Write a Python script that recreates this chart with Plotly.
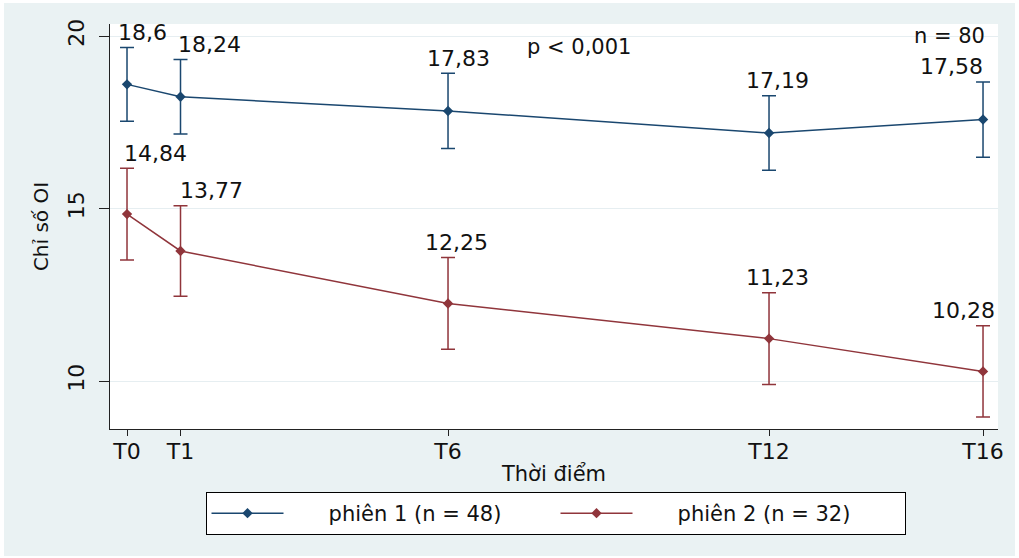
import plotly.graph_objects as go

# ---- data ----
time_labels = ["T0", "T1", "T6", "T12", "T16"]
time_values = [0, 1, 6, 12, 16]
series1_name = "phiên 1 (n = 48)"
series1_mean = [18.60, 18.24, 17.83, 17.19, 17.58]
series1_err = [1.07, 1.08, 1.09, 1.08, 1.09]
series2_name = "phiên 2 (n = 32)"
series2_mean = [14.84, 13.77, 12.25, 11.23, 10.28]
series2_err = [1.33, 1.31, 1.33, 1.33, 1.32]
y_ticks = [10, 15, 20]

# ---- style ----
FONT = "DejaVu Sans"
BLUE = "#1a476f"
RED = "#90353b"
BG = "#EAF2F3"
LEG_PAD = "\u00a0" * 6
s1_label_dx = [15, 29, 10, 8, -32]
s2_label_dx = [28, 31, 8, 8, -20]

def fmt(v):
    return f"{v:g}".replace(".", ",")

fig = go.Figure()
for name, mean, err, color in [
    (series1_name, series1_mean, series1_err, BLUE),
    (series2_name, series2_mean, series2_err, RED),
]:
    fig.add_trace(go.Scatter(
        x=time_values, y=mean, name=LEG_PAD + name, mode="lines+markers",
        line=dict(color=color, width=1.5),
        marker=dict(symbol="diamond", size=8, color=color),
        error_y=dict(type="data", array=err, visible=True, color=color,
                     thickness=1.5, width=7),
    ))

annotations = []
for mean, err, dxs in [(series1_mean, series1_err, s1_label_dx),
                       (series2_mean, series2_err, s2_label_dx)]:
    for xv, m, e, dx in zip(time_values, mean, err, dxs):
        annotations.append(dict(
            x=xv, y=m + e, xref="x", yref="y", text=fmt(m), showarrow=False,
            xanchor="center", yanchor="middle", yshift=15, xshift=dx,
            font=dict(family=FONT, size=22, color="#111111"),
        ))
annotations.append(dict(x=0.528, y=19.67, xref="paper", yref="y",
                        text="p < 0,001", showarrow=False, xanchor="center",
                        yanchor="middle",
                        font=dict(family=FONT, size=21, color="#111111")))
annotations.append(dict(x=0.9876, y=20.0, xref="paper", yref="y",
                        text="n = 80", showarrow=False, xanchor="right",
                        yanchor="middle",
                        font=dict(family=FONT, size=21, color="#111111")))

shapes = [
    dict(type="rect", xref="paper", yref="paper", x0=-0.1194, x1=1.0191,
         y0=-0.3136, y1=1.0519, fillcolor=BG, line=dict(width=0), layer="below"),
    dict(type="rect", xref="paper", yref="paper", x0=0, x1=1, y0=0, y1=1,
         fillcolor="white", line=dict(width=0), layer="below"),
]

fig.update_layout(
    width=1019, height=558,
    margin=dict(l=110, r=21, t=24, b=129),
    paper_bgcolor="white", plot_bgcolor="white",
    font=dict(family=FONT, size=20, color="#111111"),
    showlegend=True,
    legend=dict(orientation="h", x=0.5017, xanchor="center", y=-0.1556,
                yanchor="top", bgcolor="white", bordercolor="black",
                borderwidth=1, font=dict(family=FONT, size=21),
                itemwidth=72, entrywidth=262, entrywidthmode="pixels"),
    annotations=annotations,
    shapes=shapes,
    xaxis=dict(range=[-0.318, 16.28], tickvals=time_values, ticktext=time_labels,
               showgrid=False, zeroline=False, showline=True, linecolor="#222222",
               linewidth=1.2, ticks="outside", ticklen=6, tickcolor="#222222",
               tickfont=dict(family=FONT, size=22), ticklabelstandoff=-4,
               title=dict(text="Thời điểm", font=dict(family=FONT, size=21),
                          standoff=3)),
    yaxis=dict(range=[8.61, 20.35], tickvals=y_ticks, tickangle=-90,
               showgrid=True, gridcolor="#E6EEF1", gridwidth=1, zeroline=False,
               showline=True, linecolor="#222222", linewidth=1.2,
               ticks="outside", ticklen=10, tickcolor="#222222",
               tickfont=dict(family=FONT, size=22), ticklabelstandoff=6,
               title=dict(text="Chỉ số OI", font=dict(family=FONT, size=20),
                          standoff=10)),
)

fig.write_html("out.html", config={"displayModeBar": False},
               post_script="document.body.style.margin='0';")
